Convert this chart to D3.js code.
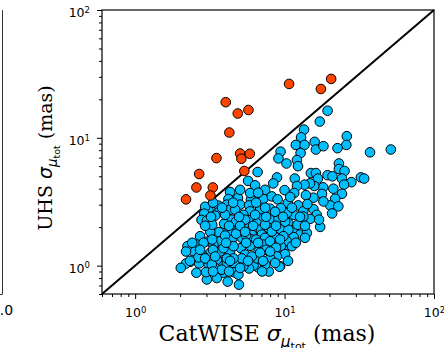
<!DOCTYPE html>
<html>
<head>
<meta charset="utf-8">
<script src="https://cdn.jsdelivr.net/npm/d3@7"></script>
<style>
body { margin: 0; background: #fff; }
svg { display: block; }
</style>
</head>
<body>
<div id="chart"></div>
<script>
// proper-motion errors (mas): [CatWISE, UHS]
const uhsBetter = [
	[19.4,16.3],[17.2,13.4],[13.5,11.6],[12.9,10.1],[11.9,8.8],[13.6,8.8],[15.9,9.3],[16.2,8.1],[18.2,8.6],[26.1,10.3],
	[25.9,8.8],[22.6,8.3],[37.3,7.7],[51.4,8.1],[9.4,7.8],[10.3,6.3],[12.8,7.6],[12.1,6.7],[12.3,6.0],[9.1,6.9],
	[23.1,6.3],[23.1,5.7],[25.2,5.5],[6.6,5.4],[15.0,5.3],[16.2,5.3],[16.7,4.8],[19.4,5.1],[20.9,5.0],[24.2,4.8],
	[32.4,4.9],[34.1,4.8],[28.0,4.5],[25.0,4.3],[21.2,4.0],[18.1,4.1],[15.8,4.2],[14.8,4.4],[13.6,4.3],[11.7,4.8],
	[10.0,3.9],[12.1,4.2],[8.9,4.9],[5.7,4.6],[6.35,4.25],[8.4,4.4],[24.2,3.65],[21.8,3.34],[20.2,2.96],[20.8,2.56],
	[17.8,3.64],[15.6,3.40],[13.9,3.56],[11.6,3.70],[10.5,3.09],[12.35,2.96],[15.6,2.77],[16.4,2.50],[13.35,2.66],[11.5,2.50],
	[10.4,2.58],[18.2,3.18],[14.2,3.03],[22.9,2.91],[7.22,3.33],[8.21,3.48],[8.98,3.30],[5.95,3.28],[4.32,3.77],[4.88,3.38],
	[4.21,3.32],[3.61,2.95],[4.11,3.00],[3.63,2.62],[3.10,2.70],[2.94,2.89],[2.90,2.55],[2.78,2.28],[3.02,2.25],[4.32,2.74],
	[5.04,3.00],[5.79,2.96],[5.88,3.70],[6.86,2.74],[8.0,2.79],[9.44,2.82],[5.88,2.66],[17.3,2.01],[17.0,2.29],[14.8,2.32],
	[13.35,2.42],[10.6,2.15],[11.5,1.91],[12.7,1.75],[14.1,1.80],[13.7,1.65],[11.5,1.67],[10.35,1.55],[9.82,1.33],[9.44,1.42],
	[9.33,0.99],[9.02,2.33],[7.90,2.32],[7.04,2.34],[6.03,2.29],[6.52,2.15],[5.58,2.03],[4.91,1.91],[4.21,1.85],[3.64,1.83],
	[3.18,1.84],[2.72,1.70],[6.86,1.91],[7.04,1.75],[7.8,1.97],[9.33,1.94],[10.6,1.91],[6.03,1.91],[7.41,1.65],[8.64,1.67],
	[9.82,1.70],[6.03,1.75],[8.21,1.85],[4.43,2.29],[5.30,2.50],[5.17,1.65],[4.43,1.60],[3.70,1.55],[3.10,1.55],[2.59,1.46],
	[6.03,1.60],[5.88,1.43],[8.21,1.42],[7.22,1.46],[8.0,1.55],[9.33,1.60],[5.10,1.37],[4.32,1.29],[3.70,1.29],[3.18,1.26],
	[2.87,1.18],[2.44,1.30],[2.24,1.42],[2.19,1.29],[2.87,1.51],[3.34,1.46],[3.90,1.37],[4.55,1.42],[3.28,2.09],[3.94,2.13],
	[4.74,2.21],[3.43,2.46],[4.00,2.50],[4.67,2.74],[5.44,2.29],[6.35,2.50],[7.41,2.09],[8.64,2.64],[10.08,2.21],[12.2,2.09],
	[3.28,1.60],[4.00,1.72],[4.74,1.78],[5.52,1.72],[6.45,1.60],[7.52,1.33],[8.77,1.38],[5.44,1.22],[4.67,1.02],[6.65,0.97],
	[3.70,1.07],[3.32,1.33],[2.68,1.04],[2.33,1.07],[4.25,2.05],[5.04,2.05],[7.41,3.92],[6.65,3.72],[10.9,3.45],[10.08,1.23],
	[8.87,1.18],[9.25,0.98],[7.84,0.90],[7.49,1.08],[6.69,1.29],[6.19,1.00],[5.79,0.95],[6.52,1.14],[8.0,1.14],[8.0,1.29],
	[11.2,1.42],[8.64,1.05],[7.41,1.02],[5.30,0.99],[4.55,0.89],[3.90,0.88],[4.16,0.75],[4.95,0.71],[4.91,0.85],[6.03,1.18],
	[5.17,1.14],[4.55,1.14],[4.11,1.05],[3.52,1.11],[6.86,1.26],[2.19,1.04],[2.02,0.96],[2.57,0.88],[3.02,0.78],[3.10,1.02],
	[2.98,0.89],[3.43,0.96],[2.65,1.16],[2.94,1.14],[3.26,1.02],[3.80,0.93],[5.04,0.96],[3.52,0.80],[3.43,1.18],[4.11,1.14],
	[3.32,3.11],[4.52,3.11],[6.45,3.11],[3.22,2.41],[4.96,2.41],[7.52,2.41],[9.77,2.41],[12.7,2.41],[2.94,2.05],[6.16,2.05],
	[8.77,2.05],[13.7,2.05],[2.41,1.51],[4.06,1.51],[5.53,1.51],[6.65,1.51],[11.9,1.51],[2.33,1.09],[4.32,1.09],[5.70,1.09],
	[7.18,1.09],[10.55,1.09],[3.32,0.90],[4.25,0.90],[7.07,0.90],[3.82,2.84],[7.41,2.84],[11.2,2.84],[5.04,3.92],[5.44,1.84],
	[2.72,1.33]
]
const catwiseBetter = [
	[10.72,26.4],[17.5,24.1],[20.5,28.9],[4.04,19.0],[4.86,15.5],[5.73,16.5],[4.27,11.0],[5.04,7.54],[5.85,7.50],
	[5.14,6.86],[3.50,6.94],[5.38,5.50],[2.68,5.21],[2.57,4.09],[3.31,4.09],[3.19,3.54],[2.19,3.30]
]

const axisLimits = [0.6, 100]
const majorTicks = [1, 10, 100]
const minorTicks = [0.6, 0.7, 0.8, 0.9, 2, 3, 4, 5, 6, 7, 8, 9, 20, 30, 40, 50, 60, 70, 80, 90]

const width = 444
const height = 348
const plot = { left: 102, right: 434, top: 10, bottom: 294 }

const BLUE = '#00bfff'
const RED = '#ff4500'

const svg = d3.select('#chart')
	.append('svg')
		.attr('width', width)
		.attr('height', height)

const x = d3.scaleLog().domain(axisLimits).range([plot.left, plot.right])
const y = d3.scaleLog().domain(axisLimits).range([plot.bottom, plot.top])

// edge of the neighbouring panel
svg.append('line')
	.attr('x1', 2.5).attr('x2', 2.5).attr('y1', plot.top).attr('y2', plot.bottom)
	.attr('stroke', '#333').attr('stroke-width', 1)
svg.append('line')
	.attr('x1', 0).attr('x2', 2.5).attr('y1', plot.bottom + 0.5).attr('y2', plot.bottom + 0.5)
	.attr('stroke', '#333').attr('stroke-width', 1)
svg.append('text')
	.attr('x', 2).attr('y', 315)
	.attr('text-anchor', 'middle')
	.style('font-family', 'DejaVu Sans')
	.style('font-size', '14px')
	.text('1.0')

// one-to-one line
svg.append('line')
	.attr('x1', x(axisLimits[0])).attr('y1', y(axisLimits[0]))
	.attr('x2', x(axisLimits[1])).attr('y2', y(axisLimits[1]))
	.attr('stroke', 'black')
	.attr('stroke-width', 2)

const drawPoints = (data, colour) => {
	svg.append('g')
		.selectAll('circle')
		.data(data)
		.join('circle')
			.attr('cx', d => x(d[0]))
			.attr('cy', d => y(d[1]))
			.attr('r', 4.8)
			.attr('fill', colour)
			.attr('stroke', 'black')
			.attr('stroke-width', 1)
}
drawPoints(uhsBetter, BLUE)
drawPoints(catwiseBetter, RED)

// frame
svg.append('rect')
	.attr('x', plot.left).attr('y', plot.top)
	.attr('width', plot.right - plot.left).attr('height', plot.bottom - plot.top)
	.attr('fill', 'none')
	.attr('stroke', 'black')
	.attr('stroke-width', 1.2)

const tickStyle = g => {
	g.select('.domain').remove()
	g.selectAll('line').attr('stroke', 'black').attr('stroke-width', 1)
}

svg.append('g')
	.attr('transform', `translate(0,${plot.bottom})`)
	.call(d3.axisBottom(x).tickValues(minorTicks).tickSize(3).tickFormat(''))
	.call(tickStyle)
svg.append('g')
	.attr('transform', `translate(${plot.left},0)`)
	.call(d3.axisLeft(y).tickValues(minorTicks).tickSize(3).tickFormat(''))
	.call(tickStyle)

const powerLabel = text => {
	text.each(function (d) {
		const t = d3.select(this)
		t.text('10')
		t.append('tspan')
			.attr('dy', '-0.5em')
			.style('font-size', '8.5px')
			.text(Math.round(Math.log10(d)))
	})
}

const xAxis = svg.append('g')
	.attr('transform', `translate(0,${plot.bottom})`)
	.call(d3.axisBottom(x).tickValues(majorTicks).tickSize(5).tickPadding(6))
	.call(tickStyle)
xAxis.selectAll('text')
	.attr('dy', null)
	.attr('y', 23)
	.style('font-family', 'DejaVu Sans')
	.style('font-size', '12.5px')
	.attr('fill', 'black')
	.call(powerLabel)

const yAxis = svg.append('g')
	.attr('transform', `translate(${plot.left},0)`)
	.call(d3.axisLeft(y).tickValues(majorTicks).tickSize(5).tickPadding(6))
	.call(tickStyle)
yAxis.selectAll('text')
	.attr('dy', null)
	.attr('x', -12)
	.attr('y', 6.5)
	.style('font-family', 'DejaVu Sans')
	.style('font-size', '12.5px')
	.attr('fill', 'black')
	.call(powerLabel)

// axis titles: "<name> σ_{μ_tot} (mas)"
const axisTitle = (text, name, size) => {
	const k = size / 20
	text.style('font-family', 'DejaVu Serif').style('font-size', size + 'px').attr('text-anchor', 'middle')
	text.append('tspan').text(name + ' ')
	text.append('tspan')
		.style('font-family', 'DejaVu Sans').style('font-style', 'italic')
		.text('σ')
	text.append('tspan')
		.attr('dy', 5 * k)
		.style('font-family', 'DejaVu Sans').style('font-style', 'italic').style('font-size', 14 * k + 'px')
		.text('μ')
	text.append('tspan')
		.attr('dy', 3 * k)
		.style('font-family', 'DejaVu Sans').style('font-size', 10 * k + 'px')
		.text('tot')
	text.append('tspan')
		.attr('dy', -8 * k)
		.text(' (mas)')
}

svg.append('text')
	.attr('x', 267).attr('y', 341)
	.call(axisTitle, 'CatWISE', 22)

svg.append('text')
	.attr('transform', 'translate(52,158) rotate(-90)')
	.call(axisTitle, 'UHS', 19)
</script>
</body>
</html>
